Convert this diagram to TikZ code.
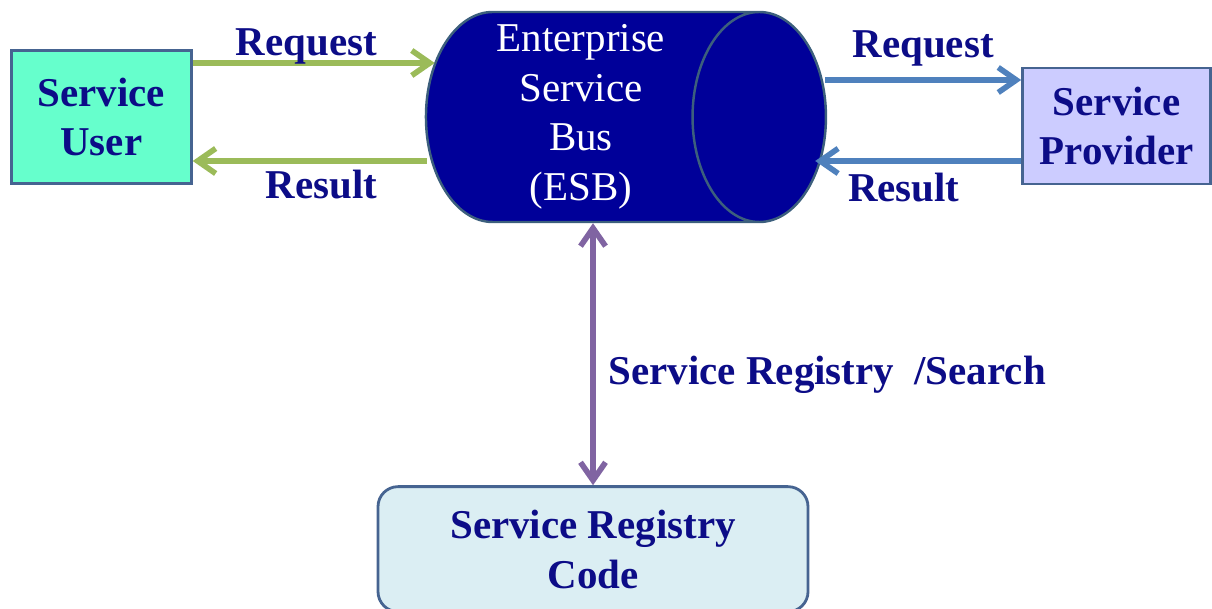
\documentclass[tikz,border=0pt]{standalone}
\usepackage{fontspec}
\setmainfont{Liberation Serif}
\usetikzlibrary{shapes.geometric, positioning, arrows.meta, calc}

\definecolor{navytext}{RGB}{12,12,135}
\definecolor{esbfill}{RGB}{0,0,153}
\definecolor{esbline}{RGB}{60,95,125}
\definecolor{boxline}{RGB}{70,100,145}
\definecolor{userfill}{RGB}{102,255,204}
\definecolor{provfill}{RGB}{204,204,255}
\definecolor{regfill}{RGB}{219,238,243}
\definecolor{grnline}{RGB}{155,187,89}
\definecolor{bluline}{RGB}{79,129,189}
\definecolor{purline}{RGB}{128,100,162}

\tikzset{
  svcbox/.style={draw=boxline, line width=1.6pt, text=navytext, align=center, inner sep=2pt,
    font=\fontsize{23.3}{28.4}\selectfont\bfseries},
  lbl/.style={text=navytext, font=\fontsize{23.3}{28.4}\selectfont\bfseries},
  link/.style={line width=3.2pt}
}

\begin{document}
\begin{tikzpicture}[x=0.2mm, y=-0.2mm, >={Straight Barb[length=0.36cm,width=0.5cm]}]
        \useasboundingbox (0,0) rectangle (1212,609);
        \node[cylinder, draw=esbline, line width=1.4pt, fill=esbfill, minimum height=8cm, minimum width=4.2cm, shape aspect=0.68, text=white, align=center, font=\fontsize{23.3}{28.2}\selectfont] (esb) at (581,117) {Enterprise\\Service\\Bus\\(ESB)};
        \node[svcbox, fill=userfill, minimum width=3.6cm, minimum height=2.66cm, left=4.64cm of esb] (user) {Service\\User};
        \node[svcbox, fill=provfill, minimum width=3.76cm, minimum height=2.32cm, right=3.88cm of esb, yshift=-0.18cm] (prov) {Service\\Provider};
        \node[svcbox, fill=regfill, rounded corners=0.4cm, minimum width=8.6cm, minimum height=2.5cm, below=5.24cm of esb, xshift=0.24cm] (reg) {Service Registry\\Code};
        \coordinate (busInL) at ($(esb.west)+(10,-54)$);
        \coordinate (busOutL) at ($(esb.west)+(2,44)$);
        \coordinate (busOutR) at ($(esb.east)+(-2,-37)$);
        \coordinate (busInR) at ($(esb.east)+(-12,44)$);
        \draw[link, grnline, ->] (user.east |- busInL) -- (busInL) node[pos=0.47, above=-5.5pt, lbl] (reqL) {Request};
        \draw[link, grnline, ->] (busOutL) -- (user.east |- busOutL) node[pos=0.45, below, lbl] (resL) {Result};
        \draw[link, bluline, ->] (busOutR) -- (prov.west |- busOutR) node[midway, above=3pt, lbl] (reqR) {Request};
        \draw[link, bluline, ->] (prov.west |- busInR) -- (busInR) node[pos=0.57, below=2pt, lbl] (resR) {Result};
        \draw[link, purline, <->] (reg.north) -- (reg.north |- esb.south) node[pos=0.42, right=4pt, lbl] (srch) {Service Registry\ \ /Search};
        \end{tikzpicture}
\end{document}
